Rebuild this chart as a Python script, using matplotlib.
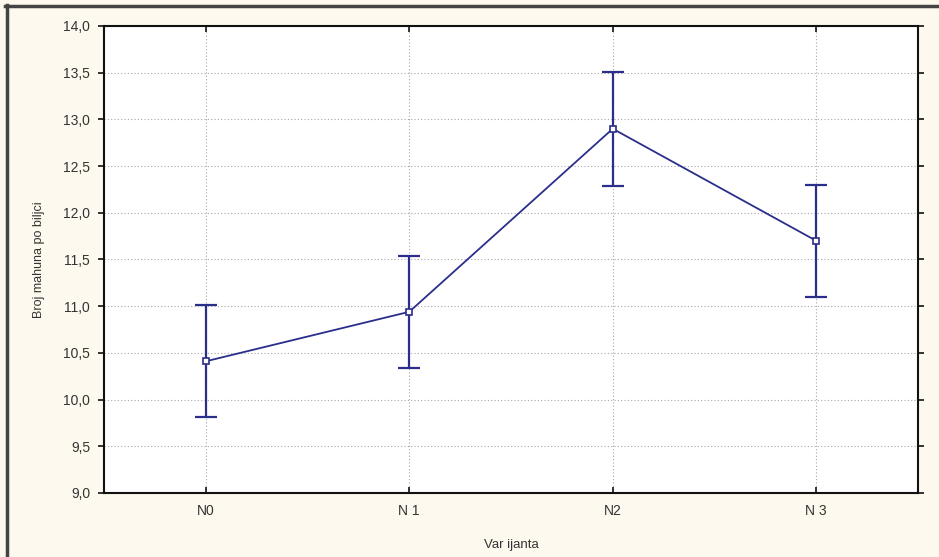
import matplotlib
matplotlib.use("Agg")
import matplotlib.pyplot as plt
from matplotlib.lines import Line2D

categories = ["N0", "N 1", "N2", "N 3"]
means = [10.41, 10.94, 12.90, 11.70]
errors = [0.60, 0.60, 0.61, 0.60]
yticks = [9.0, 9.5, 10.0, 10.5, 11.0, 11.5, 12.0, 12.5, 13.0, 13.5, 14.0]
ytick_labels = ["9,0", "9,5", "10,0", "10,5", "11,0", "11,5", "12,0", "12,5", "13,0", "13,5", "14,0"]

plt.rcParams['font.family'] = ['Liberation Sans', 'DejaVu Sans']

W, H = 939, 557
fig = plt.figure(figsize=(W / 100, H / 100), dpi=100)
fig.patch.set_facecolor('#FDF9EE')

ax = fig.add_axes([104 / W, 1 - 493 / H, (918 - 104) / W, (493 - 26) / H])
ax.set_facecolor('white')

x = list(range(len(categories)))
navy = '#2B2E8A'
ax.plot(x, means, color=navy, lw=1.3, zorder=3)
ax.errorbar(x, means, yerr=errors, fmt='none', ecolor=navy, elinewidth=1.6,
            capsize=8, capthick=1.6, zorder=3)
ax.plot(x, means, linestyle='none', marker='s', markersize=5, markerfacecolor='white',
        markeredgecolor=navy, markeredgewidth=1.2, zorder=4)

ax.set_xlim(-0.5, 3.5)
ax.set_ylim(9.0, 14.0)
ax.set_xticks(x)
ax.set_xticklabels(categories)
ax.set_yticks(yticks)
ax.set_yticklabels(ytick_labels)

ax.grid(True, color='#A8A8A8', linestyle=(0, (1, 2)), linewidth=0.8)
ax.set_axisbelow(True)
for s in ax.spines.values():
    s.set_color('#111111')
    s.set_linewidth(1.5)

ax.tick_params(axis='y', direction='out', length=4, width=1.2, colors='#111111',
               labelcolor='#333333', labelsize=10, pad=6, right=True)
ax.tick_params(axis='x', direction='in', length=4, width=1.2, colors='#111111',
               labelcolor='#333333', labelsize=10, pad=8, top=True)

ax.set_xlabel("Var ijanta", fontsize=9.5, color='#333333', labelpad=15)
ax.set_ylabel("Broj mahuna po biljci", fontsize=9, color='#333333', labelpad=13)

# outer dark frame (top and left)
fig.add_artist(Line2D([6.5 / W, 6.5 / W], [0, 1 - 5 / H], transform=fig.transFigure,
                      color='#444444', lw=2.5))
fig.add_artist(Line2D([5 / W, 1], [1 - 6 / H, 1 - 6 / H], transform=fig.transFigure,
                      color='#444444', lw=2.5))

fig.savefig("out.png", dpi=100, facecolor=fig.get_facecolor())
